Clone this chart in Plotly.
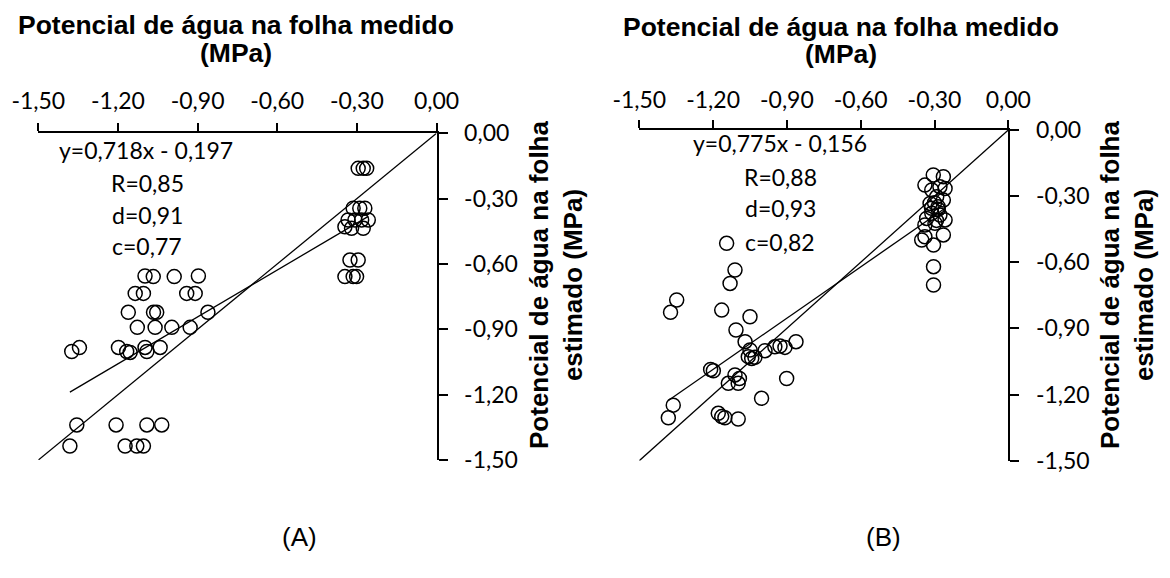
import plotly.graph_objects as go

# ---------------- data ----------------
tick_vals = [-1.5, -1.2, -0.9, -0.6, -0.3, 0.0]
tick_text = ["-1,50", "-1,20", "-0,90", "-0,60", "-0,30", "0,00"]

# Panel A : measured (x) vs estimated (y)
a_meas = [-1.098, -1.067, -0.988, -0.897,
          -1.135, -1.104, -0.941, -0.909,
          -1.161, -1.066, -1.054, -0.861,
          -1.127, -1.060, -0.997, -0.928,
          -1.374, -1.345,
          -1.198, -1.167, -1.154, -1.098, -1.091, -1.041,
          -1.355, -1.207, -1.091, -1.035,
          -1.381, -1.173, -1.129, -1.104,
          -0.295, -0.276, -0.263,
          -0.314, -0.289, -0.270,
          -0.333, -0.307, -0.282, -0.257,
          -0.345, -0.320, -0.276,
          -0.326, -0.295,
          -0.345, -0.314, -0.301]
a_est = [-0.655, -0.658, -0.658, -0.655,
         -0.735, -0.735, -0.735, -0.735,
         -0.822, -0.822, -0.822, -0.822,
         -0.891, -0.891, -0.891, -0.891,
         -1.002, -0.984,
         -0.983, -1.002, -1.006, -0.983, -1.002, -0.983,
         -1.339, -1.339, -1.339, -1.339,
         -1.436, -1.436, -1.436, -1.436,
         -0.161, -0.161, -0.161,
         -0.344, -0.344, -0.344,
         -0.398, -0.398, -0.398, -0.398,
         -0.429, -0.436, -0.436,
         -0.582, -0.582,
         -0.658, -0.658, -0.658]

# Panel B
b_meas = [-1.145, -1.111, -1.131, -1.348, -1.373, -1.165, -1.050, -1.107, -1.070,
          -1.050, -1.057, -1.043, -1.030, -0.989,
          -0.949, -0.928, -0.908, -0.863,
          -1.210, -1.199,
          -1.111, -1.138, -1.098, -1.093,
          -0.901, -1.003, -1.362, -1.382,
          -1.179, -1.165, -1.152, -1.098,
          -0.305, -0.264, -0.339, -0.278, -0.257, -0.311,
          -0.291, -0.264, -0.318, -0.285,
          -0.311, -0.278, -0.332, -0.257,
          -0.298, -0.339,
          -0.339, -0.352, -0.264,
          -0.304, -0.304, -0.304,
          -0.300, -0.285, -0.312, -0.292]
b_est = [-0.514, -0.635, -0.696, -0.771, -0.827, -0.817, -0.847, -0.907, -0.960,
         -0.998, -1.028, -1.036, -1.031, -1.001,
         -0.983, -0.980, -0.986, -0.960,
         -1.086, -1.092,
         -1.111, -1.149, -1.149, -1.127,
         -1.127, -1.217, -1.248, -1.305,
         -1.285, -1.300, -1.305, -1.311,
         -0.204, -0.212, -0.250, -0.257, -0.265, -0.272,
         -0.303, -0.318, -0.333, -0.348,
         -0.378, -0.386, -0.401, -0.408,
         -0.423, -0.431,
         -0.484, -0.499, -0.476,
         -0.522, -0.620, -0.703,
         -0.330, -0.360, -0.355, -0.410]

# regression results
a_slope, a_icpt = 0.718, -0.197
b_slope, b_icpt = 0.775, -0.156
a_stats = ["y=0,718x - 0,197", "R=0,85", "d=0,91", "c=0,77"]
b_stats = ["y=0,775x - 0,156", "R=0,88", "d=0,93", "c=0,82"]
one_to_one = [-1.5, 0.0]

# the page body has an 8px margin: size the figure so it fits the window
OFF = 8
W, H = 1170 - 2 * OFF, 578 - 2 * OFF
def px(x):
    return (x - OFF) / W
def py(y):
    return 1 - (y - OFF) / H

TICKFONT = dict(family="Lato", size=23, color="black")
BOLD = dict(family="Liberation Sans", size=26.5, color="black", weight="bold")
BOLD_Y = dict(family="Liberation Sans", size=26, color="black", weight="bold")

fig = go.Figure()

def add_panel(xa, ya, meas, est, slope, icpt):
    xs = "x" if xa == 1 else "x%d" % xa
    ys = "y" if ya == 1 else "y%d" % ya
    # 1:1 line
    fig.add_trace(go.Scatter(x=one_to_one, y=one_to_one, mode="lines",
                             line=dict(color="black", width=1.3),
                             xaxis=xs, yaxis=ys, showlegend=False, hoverinfo="skip"))
    # regression line
    lo, hi = min(meas), max(meas)
    fig.add_trace(go.Scatter(x=[lo, hi], y=[slope * lo + icpt, slope * hi + icpt],
                             mode="lines", line=dict(color="black", width=1.3),
                             xaxis=xs, yaxis=ys, showlegend=False, hoverinfo="skip"))
    fig.add_trace(go.Scatter(x=meas, y=est, mode="markers",
                             marker=dict(symbol="circle", size=14, color="rgba(0,0,0,0)",
                                         line=dict(color="black", width=1.5)),
                             xaxis=xs, yaxis=ys, showlegend=False))

add_panel(1, 1, a_meas, a_est, a_slope, a_icpt)
add_panel(2, 2, b_meas, b_est, b_slope, b_icpt)

def xaxis_cfg(domain, anchor, standoff):
    return dict(domain=domain, anchor=anchor, side="top", range=[-1.5, 0],
                tickvals=tick_vals, ticktext=tick_text, ticks="outside",
                ticklen=8, tickwidth=2, tickcolor="black", showline=True,
                linewidth=2, linecolor="black", showgrid=False, zeroline=False,
                tickfont=TICKFONT, ticklabelstandoff=standoff, automargin=False)

def yaxis_cfg(domain, anchor):
    return dict(domain=domain, anchor=anchor, side="right", range=[-1.5, 0],
                tickvals=tick_vals, ticktext=tick_text, ticks="outside",
                ticklen=9, tickwidth=2, tickcolor="black", showline=True,
                linewidth=2, linecolor="black", showgrid=False, zeroline=False,
                tickfont=TICKFONT, ticklabelstandoff=12, automargin=False)

annotations = []
def ann(text, x, y, font, **kw):
    annotations.append(dict(text=text, x=px(x), y=py(y), xref="paper", yref="paper",
                            showarrow=False, font=font, xanchor="center",
                            yanchor="middle", **kw))

# titles
for cx, dy in [(236, 0), (841, 1.5)]:
    ann("Potencial de água na folha medido", cx, 25 + dy, BOLD)
    ann("(MPa)", cx, 53 + dy, BOLD)

# y titles
ann("Potencial de água na folha<br>estimado (MPa)", 556, 285, BOLD_Y, textangle=-90)
ann("Potencial de água na folha<br>estimado (MPa)", 1127, 285, BOLD_Y, textangle=-90,
    borderpad=0)

# stats
STAT = dict(family="Lato", size=23, color="black")
for i, (ys_a, ys_b) in enumerate(zip([150, 183, 215, 246], [143, 177, 208, 242])):
    ann(a_stats[i], 146 if i == 0 else 147, ys_a, STAT)
    ann(b_stats[i], 780, ys_b, STAT)

# panel labels
PL = dict(family="Liberation Sans", size=26, color="black")
ann("(A)", 300, 537, PL)
ann("(B)", 883, 537, PL)

fig.update_layout(
    width=W, height=H, margin=dict(l=0, r=0, t=0, b=0, autoexpand=False),
    paper_bgcolor="white", plot_bgcolor="white",
    xaxis=xaxis_cfg([px(38.3), px(436.5)], "y", 5),
    yaxis=yaxis_cfg([py(460.0), py(133.3)], "x"),
    xaxis2=xaxis_cfg([px(639.3), px(1008.3)], "y2", 3),
    yaxis2=yaxis_cfg([py(460.7), py(130.0)], "x2"),
    annotations=annotations,
    showlegend=False,
)

fig.write_html("out.html")
